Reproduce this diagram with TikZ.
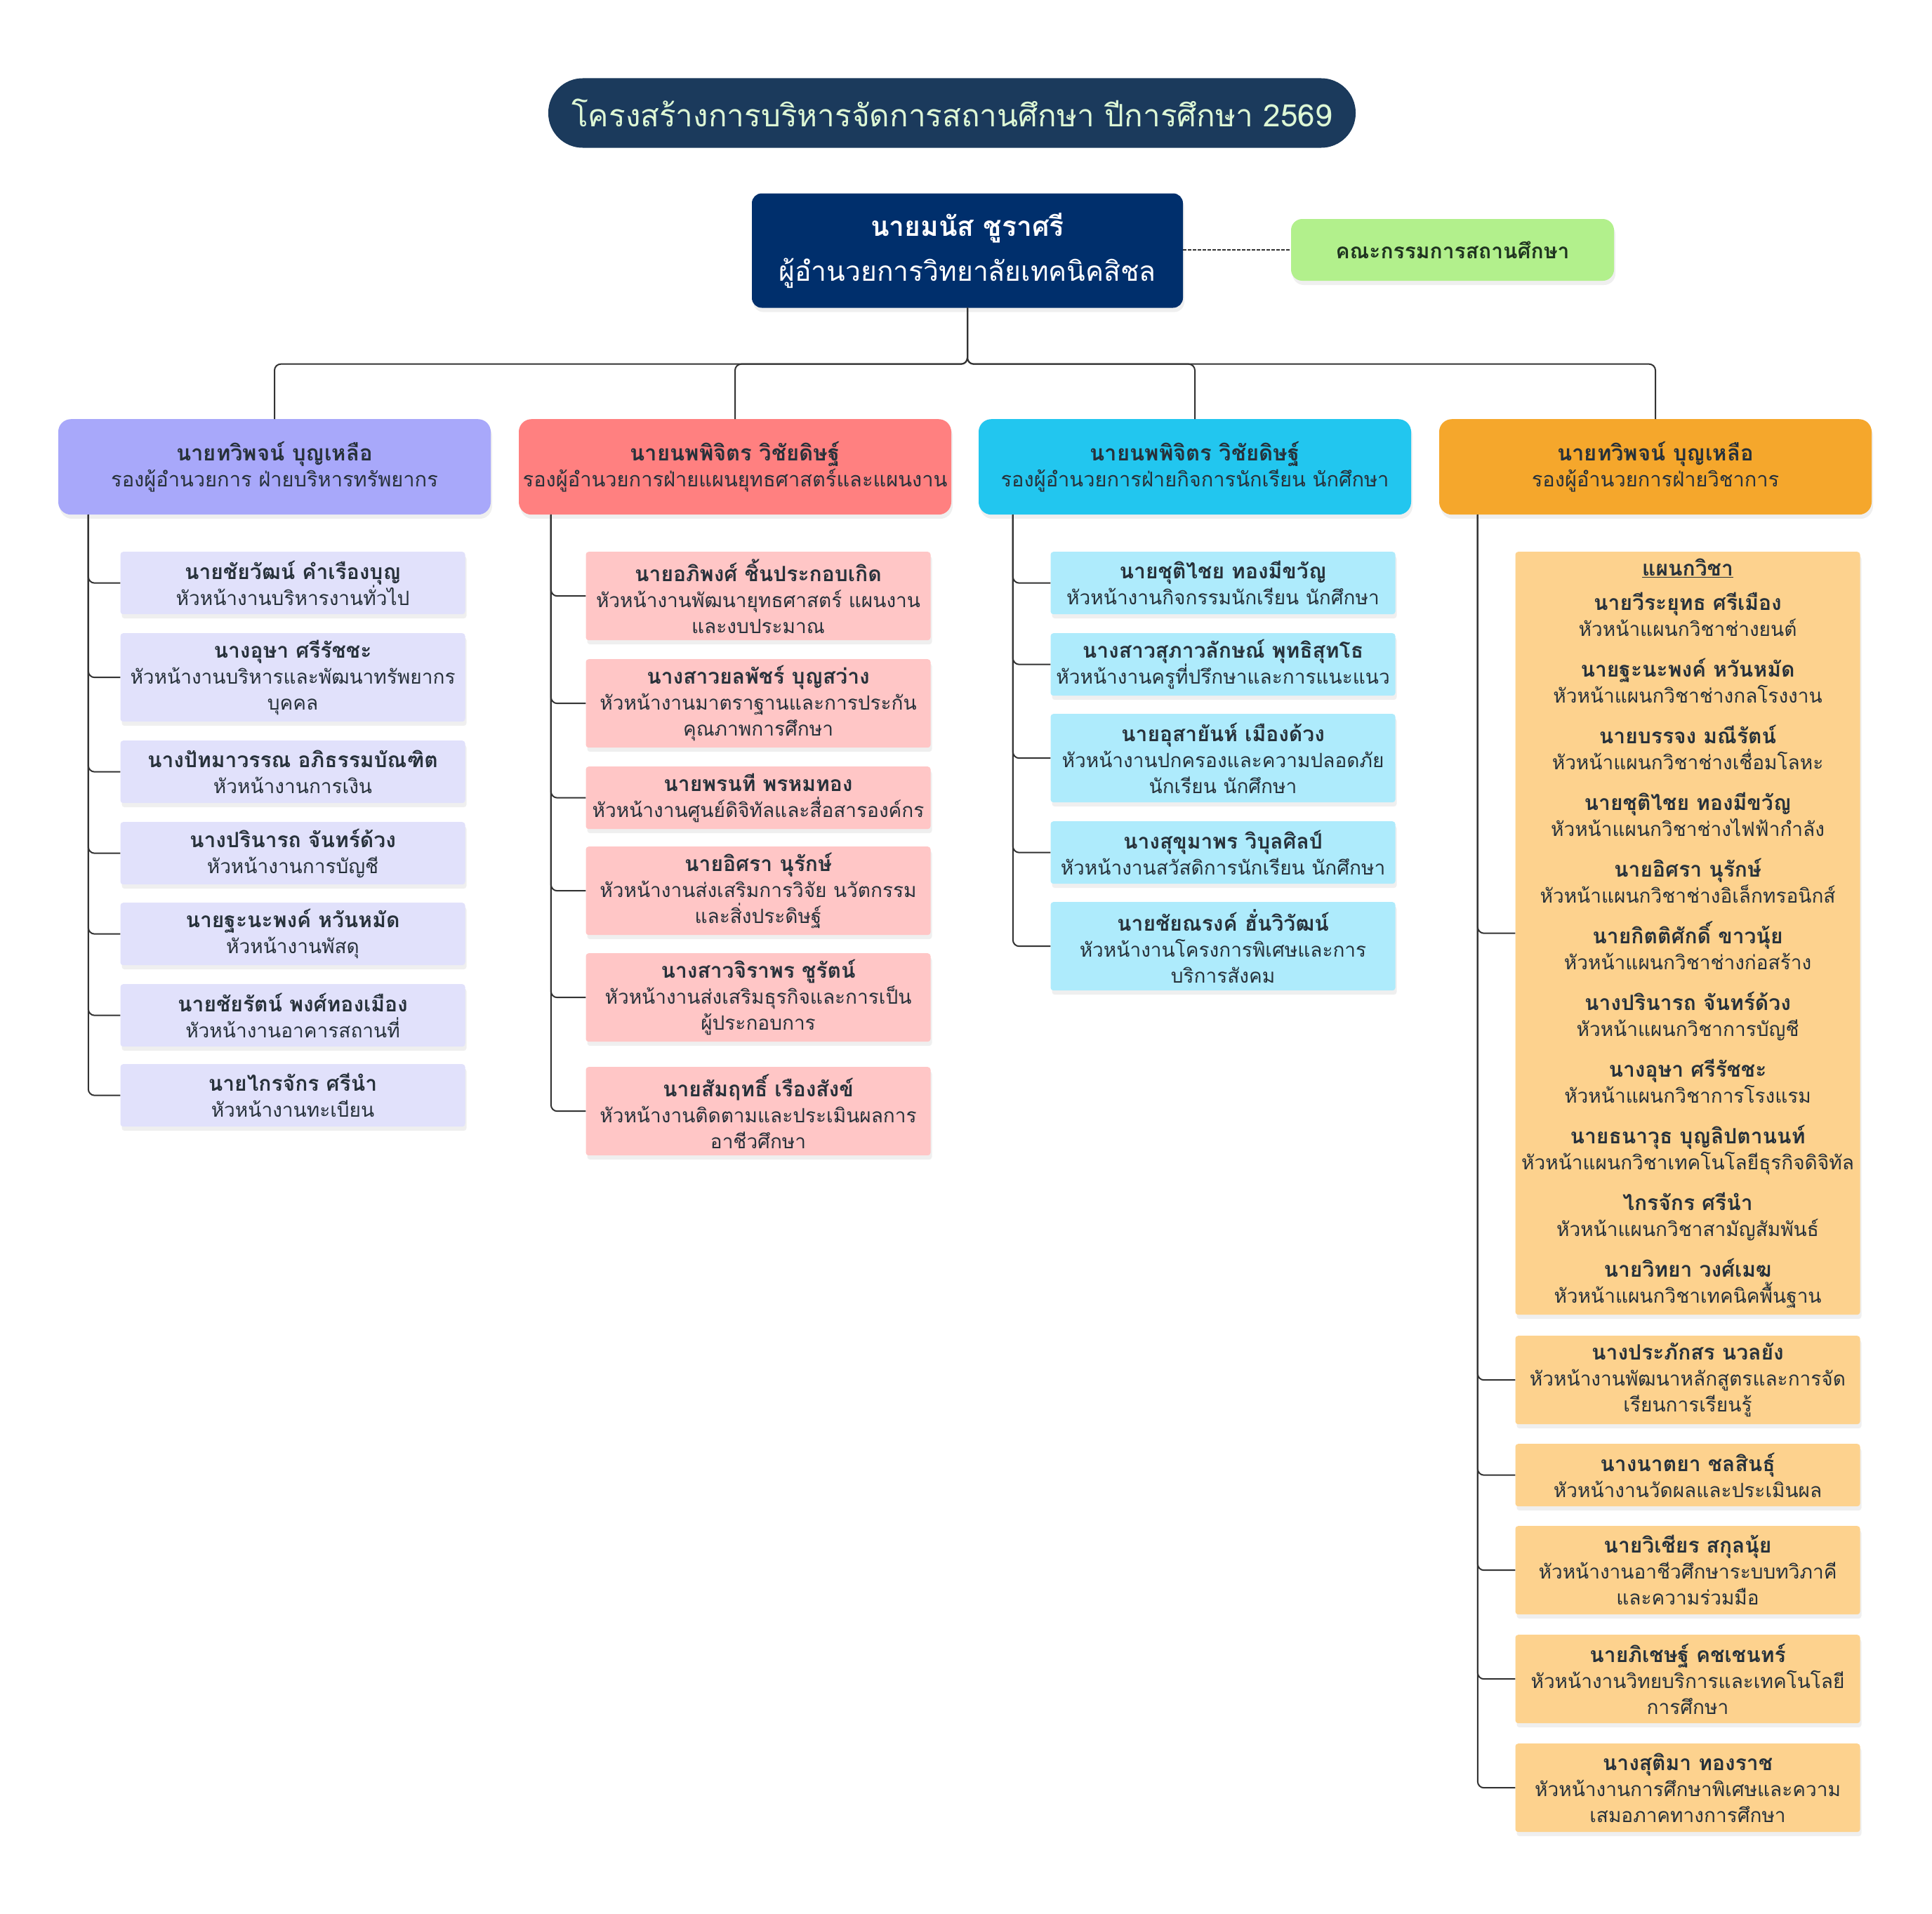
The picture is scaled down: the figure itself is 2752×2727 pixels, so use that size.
\documentclass[tikz,border=0pt]{standalone}
\usepackage{fontspec}
\setmainfont[Script=Thai]{Loma}
\usetikzlibrary{shadows}
\definecolor{titlebg}{HTML}{1B3A5C}
\definecolor{titlefg}{HTML}{DDF7D5}
\definecolor{dirbg}{HTML}{002F6C}
\definecolor{combg}{HTML}{B2F08C}
\definecolor{comfg}{HTML}{1F3320}
\definecolor{ink}{HTML}{27313A}
\definecolor{wire}{HTML}{333333}
\definecolor{lavA}{HTML}{A8A8FA}
\definecolor{lavB}{HTML}{E1E1FB}
\definecolor{salA}{HTML}{FF8080}
\definecolor{salB}{HTML}{FFC6C6}
\definecolor{cyaA}{HTML}{22C6EF}
\definecolor{cyaB}{HTML}{AEEBFC}
\definecolor{ornA}{HTML}{F5A72C}
\definecolor{ornB}{HTML}{FDD28E}
\newcommand{\head}[2]{{\fontsize{30}{37}\selectfont\textbf{#1}}\\#2}
\newcommand{\vphead}[2]{{\fontsize{31}{37}\selectfont\textbf{#1}}\\#2}

\begin{document}
\begin{tikzpicture}[x=1pt,y=-1pt,
    box/.style={rectangle, inner sep=0pt, align=center, text=ink, font=\fontsize{28}{37}\selectfont},
    shade/.style={drop shadow={shadow xshift=2pt, shadow yshift=-6pt, opacity=.12}},
    vpbox/.style={box, shade, rounded corners=18pt, minimum width=616pt, minimum height=136pt, anchor=north, font=\fontsize{29}{37}\selectfont},
    kid/.style={box, shade, rounded corners=4pt, minimum width=491pt, anchor=north},
    twoline/.style={minimum height=89pt},
    threeline/.style={minimum height=126pt},
    link/.style={draw=wire, line width=2pt, rounded corners=9pt}]
    \useasboundingbox[fill=white] (0,0) rectangle (2752,2727);

    % title and top level
    \node[box, fill=titlebg, text=titlefg, rounded corners=49pt, minimum width=1150pt, minimum height=99pt, font=\fontsize{44}{54}\selectfont] (title) at (1356,161) {โครงสร้างการบริหารจัดการสถานศึกษา ปีการศึกษา 2569};
    \node[box, shade, fill=dirbg, text=white, rounded corners=14pt, minimum width=614pt, minimum height=163pt, font=\fontsize{39}{64}\selectfont] (dir) at (1378,357) {\textbf{นายมนัส ชูราศรี}\\ผู้อำนวยการวิทยาลัยเทคนิคสิชล};
    \node[box, shade, fill=combg, text=comfg, rounded corners=16pt, minimum width=460pt, minimum height=88pt, font=\fontsize{30}{37}\selectfont] (com) at (2069,356) {\textbf{คณะกรรมการสถานศึกษา}};
    \draw[wire, line width=1.4pt, dash pattern=on 5pt off 2pt] (dir.east |- com.west) -- (com.west);

    % deputy directors
    \node[vpbox, fill=lavA] (vp1) at (391,597) {\vphead{นายทวิพจน์ บุญเหลือ}{รองผู้อำนวยการ ฝ่ายบริหารทรัพยากร}};
    \node[vpbox, fill=salA] (vp2) at (1047,597) {\vphead{นายนพพิจิตร วิชัยดิษฐ์}{รองผู้อำนวยการฝ่ายแผนยุทธศาสตร์และแผนงาน}};
    \node[vpbox, fill=cyaA] (vp3) at (1702,597) {\vphead{นายนพพิจิตร วิชัยดิษฐ์}{รองผู้อำนวยการฝ่ายกิจการนักเรียน นักศึกษา}};
    \node[vpbox, fill=ornA] (vp4) at (2358,597) {\vphead{นายทวิพจน์ บุญเหลือ}{รองผู้อำนวยการฝ่ายวิชาการ}};
    \foreach \v in {vp1,vp2,vp3,vp4}
        \draw[link] (dir.south) -- ++(0,80) -| (\v.north);

    % resources
    \node[kid, twoline, fill=lavB] (k11) at (417,786) {\head{นายชัยวัฒน์ คำเรืองบุญ}{หัวหน้างานบริหารงานทั่วไป}};
    \node[kid, threeline, fill=lavB] (k12) at (417,902) {\head{นางอุษา ศรีรัชชะ}{หัวหน้างานบริหารและพัฒนาทรัพยากร\\บุคคล}};
    \node[kid, twoline, fill=lavB] (k13) at (417,1055) {\head{นางปัทมาวรรณ อภิธรรมบัณฑิต}{หัวหน้างานการเงิน}};
    \node[kid, twoline, fill=lavB] (k14) at (417,1171) {\head{นางปรินารถ จันทร์ด้วง}{หัวหน้างานการบัญชี}};
    \node[kid, twoline, fill=lavB] (k15) at (417,1286) {\head{นายฐะนะพงค์ หวันหมัด}{หัวหน้างานพัสดุ}};
    \node[kid, twoline, fill=lavB] (k16) at (417,1402) {\head{นายชัยรัตน์ พงศ์ทองเมือง}{หัวหน้างานอาคารสถานที่}};
    \node[kid, twoline, fill=lavB] (k17) at (417,1516) {\head{นายไกรจักร ศรีนำ}{หัวหน้างานทะเบียน}};
    \foreach \k in {k11,k12,k13,k14,k15,k16,k17}
        \draw[link] ([xshift=43pt]vp1.south west) |- (\k.west);

    % strategy and plans
    \node[kid, threeline, fill=salB] (k21) at (1080,786) {\head{นายอภิพงศ์ ชิ้นประกอบเกิด}{หัวหน้างานพัฒนายุทธศาสตร์ แผนงาน\\และงบประมาณ}};
    \node[kid, threeline, fill=salB] (k22) at (1080,939) {\head{นางสาวยลพัชร์ บุญสว่าง}{หัวหน้างานมาตราฐานและการประกัน\\คุณภาพการศึกษา}};
    \node[kid, twoline, fill=salB] (k23) at (1080,1092) {\head{นายพรนที พรหมทอง}{หัวหน้างานศูนย์ดิจิทัลและสื่อสารองค์กร}};
    \node[kid, threeline, fill=salB] (k24) at (1080,1206) {\head{นายอิศรา นุรักษ์}{หัวหน้างานส่งเสริมการวิจัย นวัตกรรม\\และสิ่งประดิษฐ์}};
    \node[kid, threeline, fill=salB] (k25) at (1080,1358) {\head{นางสาวจิราพร ชูรัตน์}{หัวหน้างานส่งเสริมธุรกิจและการเป็น\\ผู้ประกอบการ}};
    \node[kid, threeline, fill=salB] (k26) at (1080,1520) {\head{นายสัมฤทธิ์ เรืองสังข์}{หัวหน้างานติดตามและประเมินผลการ\\อาชีวศึกษา}};
    \foreach \k in {k21,k22,k23,k24,k25,k26}
        \draw[link] ([xshift=46pt]vp2.south west) |- (\k.west);

    % student affairs
    \node[kid, twoline, fill=cyaB] (k31) at (1742,786) {\head{นายชุติไชย ทองมีขวัญ}{หัวหน้างานกิจกรรมนักเรียน นักศึกษา}};
    \node[kid, twoline, fill=cyaB] (k32) at (1742,902) {\head{นางสาวสุภาวลักษณ์ พุทธิสุทโธ}{หัวหน้างานครูที่ปรึกษาและการแนะแนว}};
    \node[kid, threeline, fill=cyaB] (k33) at (1742,1017) {\head{นายอุสายันห์ เมืองด้วง}{หัวหน้างานปกครองและความปลอดภัย\\นักเรียน นักศึกษา}};
    \node[kid, twoline, fill=cyaB] (k34) at (1742,1170) {\head{นางสุขุมาพร วิบุลศิลป์}{หัวหน้างานสวัสดิการนักเรียน นักศึกษา}};
    \node[kid, threeline, fill=cyaB] (k35) at (1742,1285) {\head{นายชัยณรงค์ ฮั่นวิวัฒน์}{หัวหน้างานโครงการพิเศษและการ\\บริการสังคม}};
    \foreach \k in {k31,k32,k33,k34,k35}
        \draw[link] ([xshift=49pt]vp3.south west) |- (\k.west);

    % academic affairs
    \node[kid, fill=ornB, minimum height=1087pt] (k41) at (2404,786) {{\fontsize{30}{37}\selectfont\underline{\textbf{แผนกวิชา}}}\\[12pt]
        \head{นายวีระยุทธ ศรีเมือง}{หัวหน้าแผนกวิชาช่างยนต์}\\[21pt]
        \head{นายฐะนะพงค์ หวันหมัด}{หัวหน้าแผนกวิชาช่างกลโรงงาน}\\[21pt]
        \head{นายบรรจง มณีรัตน์}{หัวหน้าแผนกวิชาช่างเชื่อมโลหะ}\\[21pt]
        \head{นายชุติไชย ทองมีขวัญ}{หัวหน้าแผนกวิชาช่างไฟฟ้ากำลัง}\\[21pt]
        \head{นายอิศรา นุรักษ์}{หัวหน้าแผนกวิชาช่างอิเล็กทรอนิกส์}\\[21pt]
        \head{นายกิตติศักดิ์ ขาวนุ้ย}{หัวหน้าแผนกวิชาช่างก่อสร้าง}\\[21pt]
        \head{นางปรินารถ จันทร์ด้วง}{หัวหน้าแผนกวิชาการบัญชี}\\[21pt]
        \head{นางอุษา ศรีรัชชะ}{หัวหน้าแผนกวิชาการโรงแรม}\\[21pt]
        \head{นายธนาวุธ บุญลิปตานนท์}{หัวหน้าแผนกวิชาเทคโนโลยีธุรกิจดิจิทัล}\\[21pt]
        \head{ไกรจักร ศรีนำ}{หัวหน้าแผนกวิชาสามัญสัมพันธ์}\\[21pt]
        \head{นายวิทยา วงศ์เมฆ}{หัวหน้าแผนกวิชาเทคนิคพื้นฐาน}};
    \node[kid, threeline, fill=ornB] (k42) at (2404,1903) {\head{นางประภักสร นวลยัง}{หัวหน้างานพัฒนาหลักสูตรและการจัด\\เรียนการเรียนรู้}};
    \node[kid, twoline, fill=ornB] (k43) at (2404,2057) {\head{นางนาตยา ชลสินธุ์}{หัวหน้างานวัดผลและประเมินผล}};
    \node[kid, threeline, fill=ornB] (k44) at (2404,2174) {\head{นายวิเชียร สกุลนุ้ย}{หัวหน้างานอาชีวศึกษาระบบทวิภาคี\\และความร่วมมือ}};
    \node[kid, threeline, fill=ornB] (k45) at (2404,2329) {\head{นายภิเชษฐ์ คชเชนทร์}{หัวหน้างานวิทยบริการและเทคโนโลยี\\การศึกษา}};
    \node[kid, threeline, fill=ornB] (k46) at (2404,2484) {\head{นางสุติมา ทองราช}{หัวหน้างานการศึกษาพิเศษและความ\\เสมอภาคทางการศึกษา}};
    \foreach \k in {k41,k42,k43,k44,k45,k46}
        \draw[link] ([xshift=55pt]vp4.south west) |- (\k.west);
\end{tikzpicture}
\end{document}
